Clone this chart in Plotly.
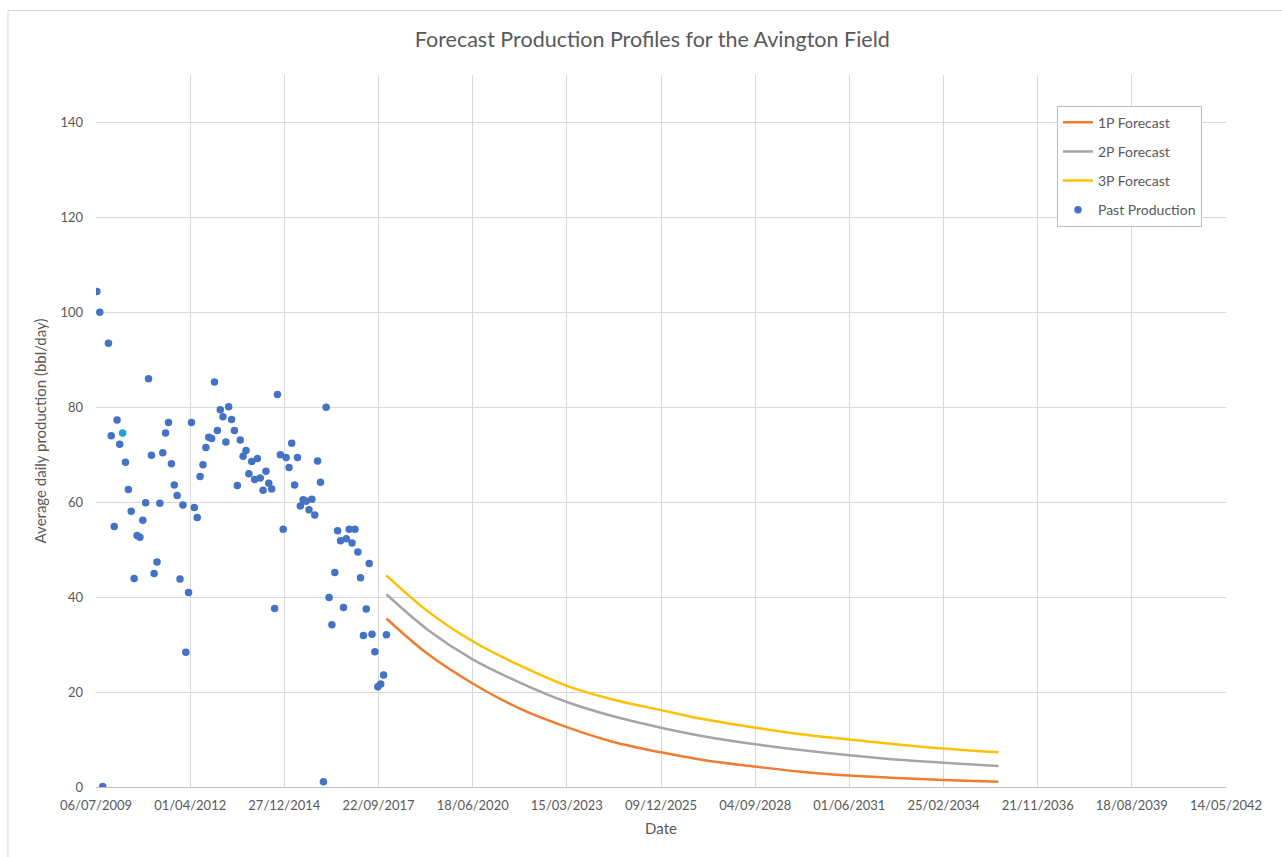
import plotly.graph_objects as go

# Monthly average daily production (bbl/day), sampled mid-month
past_dates = [
    "2009-07-15", "2009-08-15", "2009-09-15", "2009-11-15", "2009-12-15",
    "2010-01-15", "2010-02-15", "2010-03-15", "2010-04-15", "2010-05-15", "2010-06-15",
    "2010-07-15", "2010-08-15", "2010-09-15", "2010-10-15", "2010-11-15", "2010-12-15",
    "2011-01-15", "2011-02-15", "2011-03-15", "2011-04-15", "2011-05-15", "2011-06-15",
    "2011-07-15", "2011-08-15", "2011-09-15", "2011-10-15", "2011-11-15", "2011-12-15",
    "2012-01-15", "2012-02-15", "2012-03-15", "2012-04-15", "2012-05-15", "2012-06-15",
    "2012-07-15", "2012-08-15", "2012-09-15", "2012-10-15", "2012-11-15", "2012-12-15",
    "2013-01-15", "2013-02-15", "2013-03-15", "2013-04-15", "2013-05-15", "2013-06-15",
    "2013-07-15", "2013-08-15", "2013-09-15", "2013-10-15", "2013-11-15", "2013-12-15",
    "2014-01-15", "2014-02-15", "2014-03-15", "2014-04-15", "2014-05-15", "2014-06-15",
    "2014-07-15", "2014-08-15", "2014-09-15", "2014-10-15", "2014-11-15", "2014-12-15",
    "2015-01-15", "2015-02-15", "2015-03-15", "2015-04-15", "2015-05-15", "2015-06-15",
    "2015-07-15", "2015-08-15", "2015-09-15", "2015-10-15", "2015-11-15", "2015-12-15",
    "2016-01-15", "2016-02-15", "2016-03-15", "2016-04-15", "2016-05-15", "2016-06-15",
    "2016-07-15", "2016-08-15", "2016-09-15", "2016-10-15", "2016-11-15", "2016-12-15",
    "2017-01-15", "2017-02-15", "2017-03-15", "2017-04-15", "2017-05-15", "2017-06-15",
    "2017-07-15", "2017-08-15", "2017-09-15", "2017-10-15", "2017-11-15", "2017-12-15",
]
past_values = [
    104.4, 100.0, 0.1, 93.5, 74.0,
    54.9, 77.3, 72.2, 74.6, 68.4, 62.7,
    58.1, 43.9, 53.0, 52.6, 56.2, 59.9,
    86.0, 69.9, 45.0, 47.4, 59.8, 70.4,
    74.6, 76.8, 68.1, 63.6, 61.4, 43.8,
    59.4, 28.4, 41.0, 76.8, 58.9, 56.8,
    65.4, 67.9, 71.5, 73.7, 73.4, 85.3,
    75.1, 79.5, 78.0, 72.7, 80.1, 77.4,
    75.1, 63.5, 73.1, 69.7, 70.9, 66.0,
    68.6, 64.8, 69.2, 65.1, 62.5, 66.5,
    64.0, 62.8, 37.6, 82.7, 70.0, 54.3,
    69.4, 67.3, 72.4, 63.6, 69.4, 59.2,
    60.5, 60.2, 58.4, 60.6, 57.3, 68.7,
    64.2, 1.1, 80.0, 39.9, 34.2, 45.2,
    54.0, 51.9, 37.8, 52.3, 54.3, 51.4,
    54.3, 49.5, 44.1, 31.9, 37.5, 47.1,
    32.2, 28.5, 21.1, 21.7, 23.6, 32.1,
]
# One month is picked out in a lighter blue
highlight_date = "2010-04-15"

# Forecast profiles (bbl/day)
forecast_dates = [
    "2017-12-15", "2019-03-01", "2020-06-18", "2021-11-01", "2023-03-15",
    "2024-07-01", "2025-12-09", "2027-04-01", "2028-09-04", "2030-01-01",
    "2031-06-01", "2032-10-01", "2034-02-25", "2035-10-01",
]
forecast_1p = [35.5, 28.0, 21.8, 16.5, 12.6, 9.6, 7.3, 5.6, 4.3, 3.2, 2.4, 1.9, 1.5, 1.1]
forecast_2p = [40.6, 33.1, 26.9, 22.0, 17.9, 15.0, 12.5, 10.6, 9.0, 7.8, 6.7, 5.8, 5.1, 4.4]
forecast_3p = [44.6, 37.0, 30.7, 25.6, 21.3, 18.5, 16.2, 14.2, 12.5, 11.1, 10.0, 9.0, 8.1, 7.3]

# Date axis ticks every 1000 days
tick_dates = [
    "2009-07-06", "2012-04-01", "2014-12-27", "2017-09-22", "2020-06-18",
    "2023-03-15", "2025-12-09", "2028-09-04", "2031-06-01", "2034-02-25",
    "2036-11-21", "2039-08-18", "2042-05-14",
]
y_ticks = [0, 20, 40, 60, 80, 100, 120, 140]

TEXT = "#595959"
GRID = "#D9D9D9"
FONT = "Lato, 'Liberation Sans', sans-serif"

fig = go.Figure()

line_series = [
    ("1P Forecast", forecast_1p, "#ED7D31"),
    ("2P Forecast", forecast_2p, "#A5A5A5"),
    ("3P Forecast", forecast_3p, "#FFC000"),
]
for name, values, color in line_series:
    fig.add_trace(go.Scatter(
        x=forecast_dates, y=values, name=name, mode="lines",
        line=dict(color=color, width=2.5, shape="spline", smoothing=1.0),
        legendgroup=name,
    ))

marker_colors = ["#1AA3DD" if d == highlight_date else "#4472C4" for d in past_dates]
fig.add_trace(go.Scatter(
    x=past_dates, y=past_values, name="Past Production", mode="markers",
    marker=dict(color=marker_colors, size=7.5, line=dict(width=0)),
    legendgroup="Past Production",
))

fig.update_layout(
    width=1282, height=857,
    margin=dict(l=96, r=56, t=74.5, b=70),
    paper_bgcolor="white", plot_bgcolor="white",
    font=dict(family=FONT, color=TEXT, size=13),
    title=dict(
        text="Forecast Production Profiles for the Avington Field",
        x=0.5088, xanchor="center", y=0.954, yanchor="middle",
        font=dict(size=21.5, color=TEXT, family=FONT),
    ),
    showlegend=True,
    legend=dict(
        x=0.8504, y=0.957, xanchor="left", yanchor="top",
        bgcolor="white", bordercolor="#BFBFBF", borderwidth=1,
        font=dict(size=14, color=TEXT, family=FONT),
        traceorder="grouped", tracegroupgap=8, itemwidth=30,
    ),
    xaxis=dict(
        type="date",
        range=[tick_dates[0], tick_dates[-1]],
        tickmode="array", tickvals=tick_dates, tickformat="%d/%m/%Y",
        showgrid=True, gridcolor=GRID, gridwidth=1,
        showline=True, linecolor="#BFBFBF", linewidth=1,
        zeroline=False, ticks="", ticklabelstandoff=6,
        tickfont=dict(size=13, color=TEXT),
        title=dict(text="Date", font=dict(size=15, color=TEXT), standoff=11),
    ),
    yaxis=dict(
        range=[0, 150],
        tickmode="array", tickvals=y_ticks,
        showgrid=True, gridcolor=GRID, gridwidth=1,
        showline=False, zeroline=False, ticks="", ticklabelstandoff=12,
        tickfont=dict(size=13, color=TEXT),
        title=dict(text="Average daily production (bbl/day)",
                   font=dict(size=15, color=TEXT), standoff=10),
    ),
    shapes=[dict(
        type="rect", xref="paper", yref="paper",
        x0=-0.0779, x1=1.06, y0=-0.12, y1=1.0905,
        line=dict(color="#D9D9D9", width=1), fillcolor="rgba(0,0,0,0)",
        layer="below",
    )],
)

fig.write_html("out.html")
